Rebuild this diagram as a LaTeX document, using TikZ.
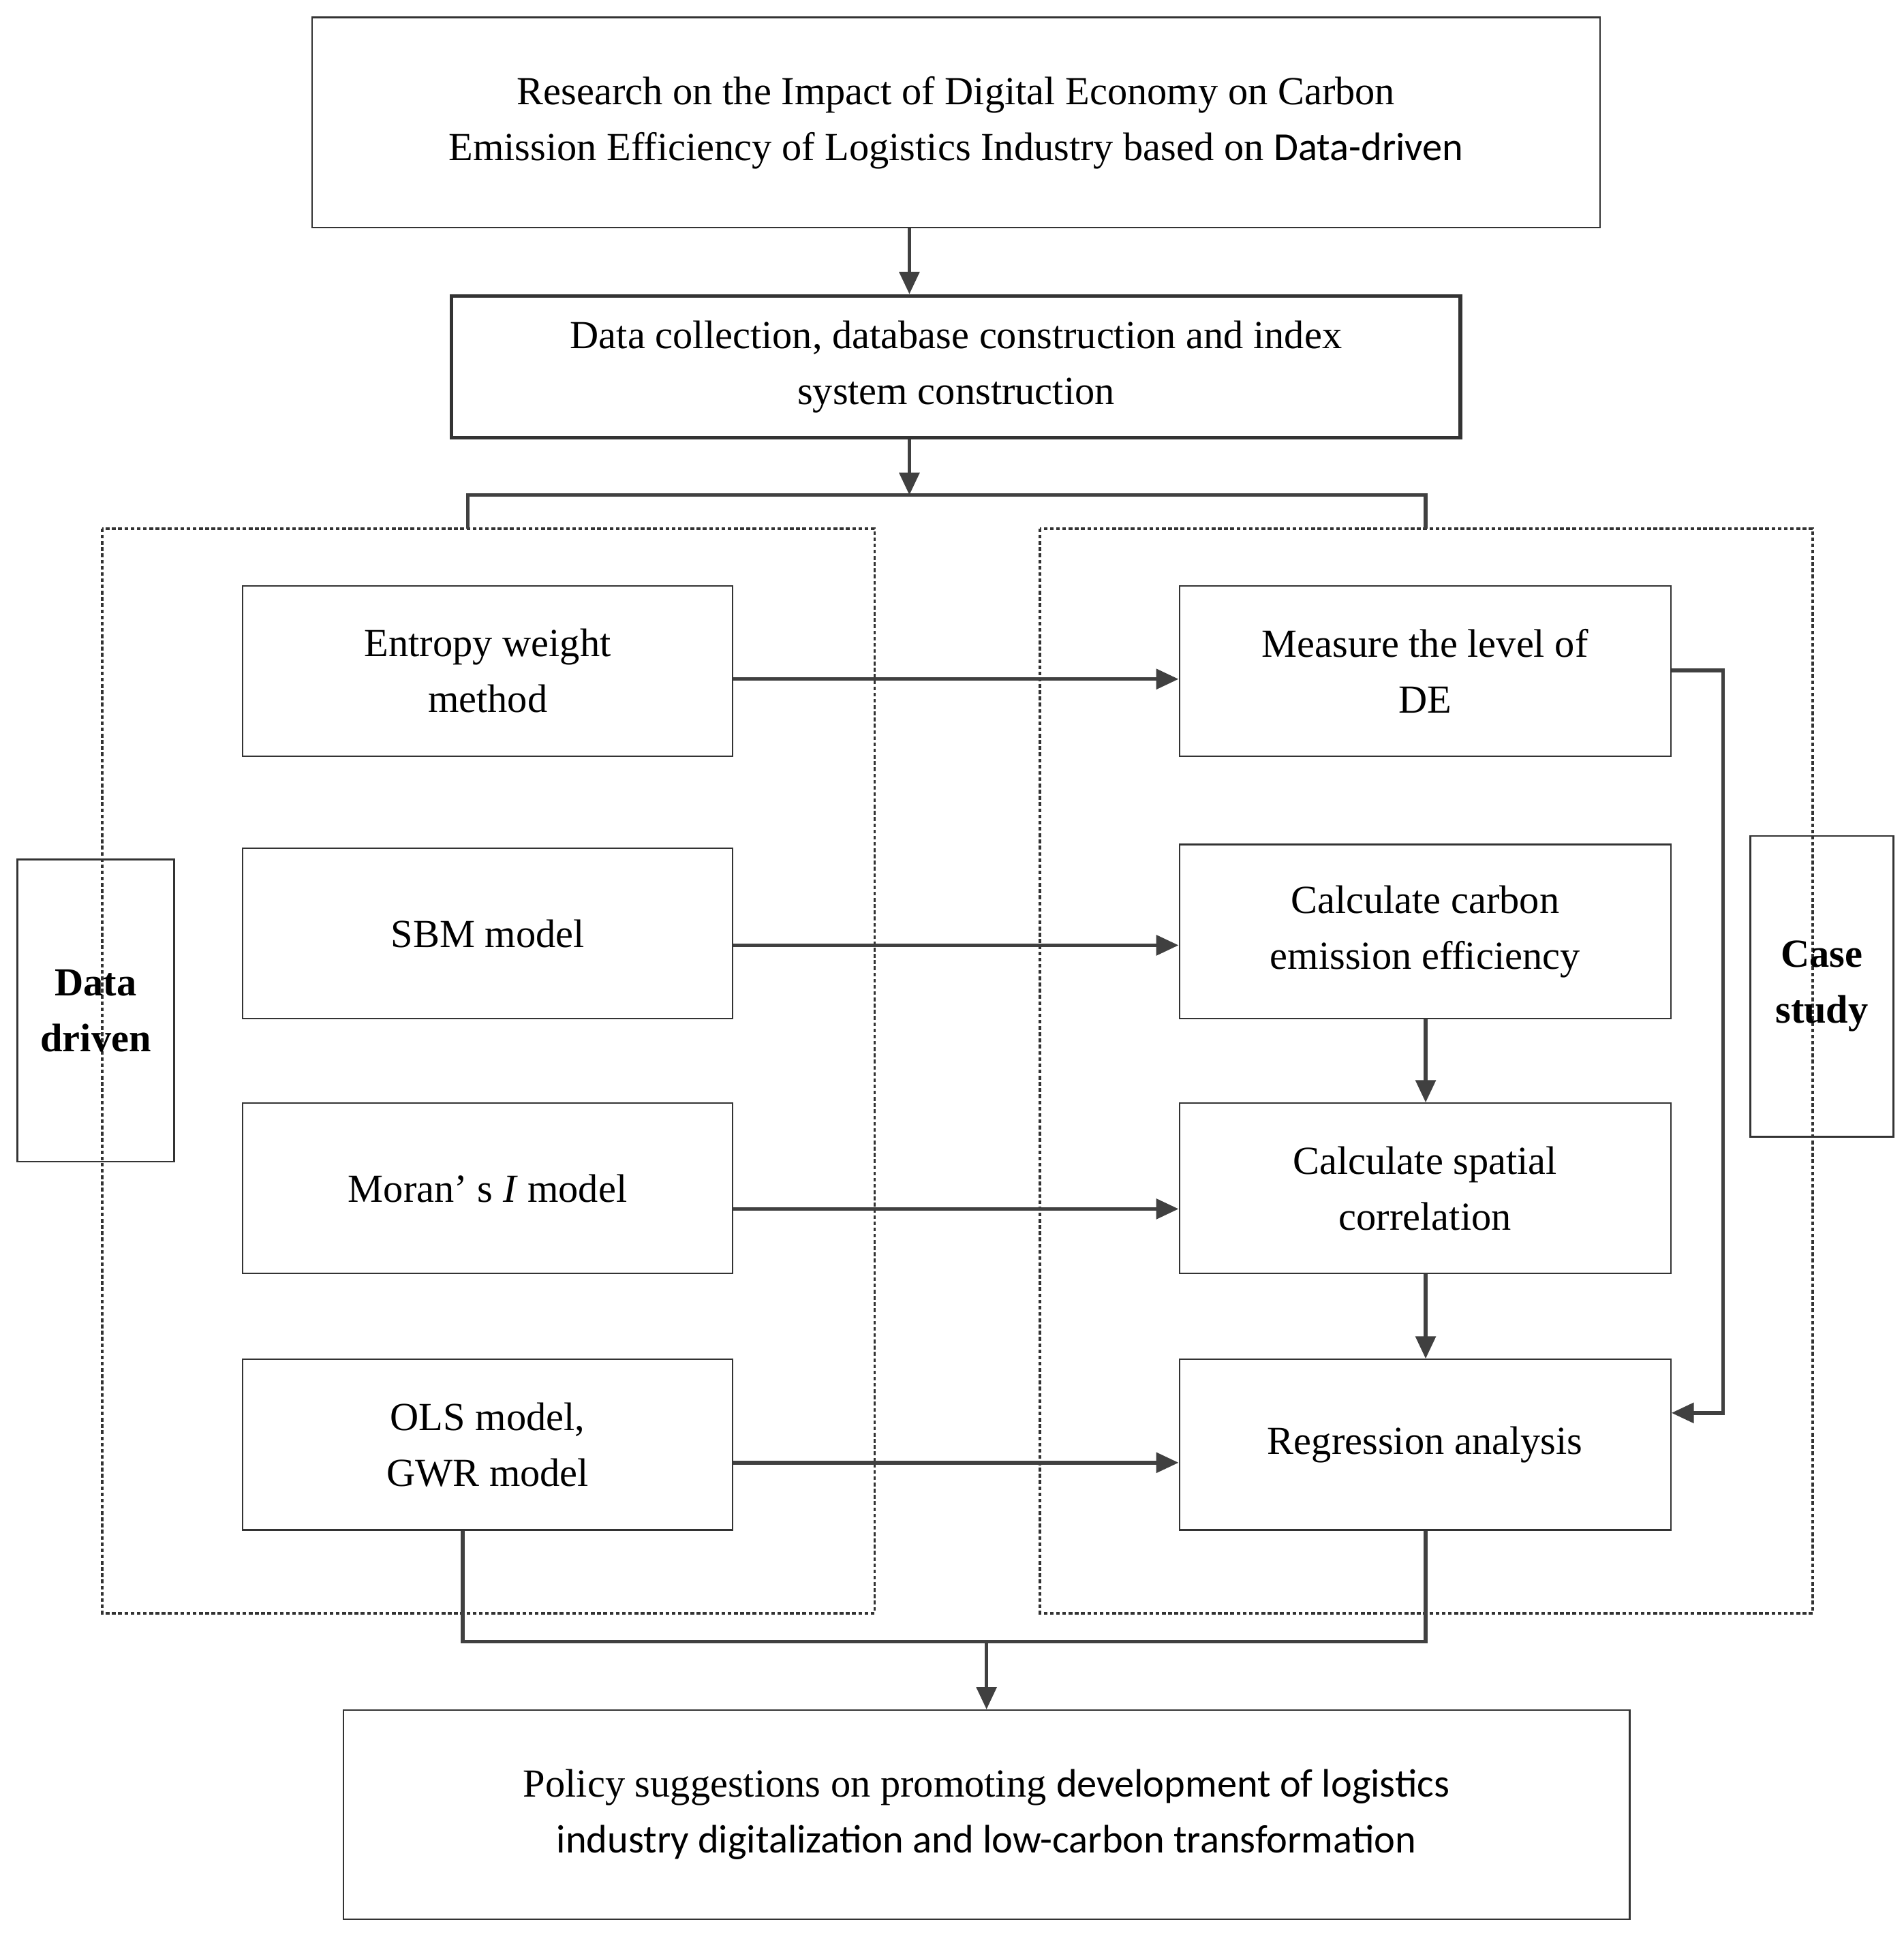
\documentclass[tikz,border=0pt]{standalone}
\usepackage{fontspec}
\setmainfont{Liberation Serif}
\newfontfamily\carl{Carlito}
\usetikzlibrary{arrows.meta}
\begin{document}
\begin{tikzpicture}[x=1pt,y=-1pt,
 box/.style={draw=black!80,line width=1.2pt,rectangle,align=center,font=\fontsize{32}{45}\selectfont,inner sep=0pt},
 arr/.style={draw=black!75,line width=3pt,-{Triangle[length=18pt,width=16pt]}},
 ln/.style={draw=black!75,line width=3pt},
 dashbox/.style={draw=black!80,line width=2pt,dash pattern=on 3pt off 2pt}]
\useasboundingbox (0,0) rectangle (1530,1559);
\newcommand\bx[6]{\node[box,#6,minimum width=#3-#1,minimum height=#4-#2] (#5) at ({(#1+#3)/2},{(#2+#4)/2})}
\bx{251}{14}{1286}{183}{t}{}{Research on the Impact of  Digital Economy on Carbon\\Emission Efficiency of Logistics Industry based on {\carl Data-driven}};
\bx{363}{238}{1174}{352}{d}{line width=3pt}{Data collection, database construction and index\\system construction};
\draw[dashbox] (82,425) rectangle (703,1297);
\draw[dashbox] (836,425) rectangle (1457,1297);
\bx{195}{471}{589}{608}{l1}{}{Entropy weight\\method};
\bx{195}{682}{589}{819}{l2}{}{SBM model};
\bx{195}{887}{589}{1024}{l3}{}{Moran’ s \textit{I}  model};
\bx{195}{1093}{589}{1230}{l4}{}{OLS model,\\GWR model};
\bx{948}{471}{1343}{608}{r1}{}{Measure the  level of\\DE};
\bx{948}{679}{1343}{819}{r2}{}{Calculate carbon\\emission efficiency};
\bx{948}{887}{1343}{1024}{r3}{}{Calculate spatial\\correlation};
\bx{948}{1093}{1343}{1230}{r4}{}{Regression analysis};
\bx{14}{691}{140}{934}{dd}{font=\fontsize{32}{45}\selectfont\bfseries}{Data\\driven};
\bx{1407}{672}{1522}{914}{cs}{font=\fontsize{32}{45}\selectfont\bfseries}{Case\\study};
\bx{276}{1375}{1310}{1543}{p}{}{Policy suggestions on promoting {\carl development of logistics}\\{\carl industry digitalization and low-carbon transformation}};
\coordinate (c1) at (731,398);
\coordinate (c2) at (793,1320);
\coordinate (k1) at (1385,539);
\coordinate (k2) at (1385,1136);
\draw[arr] (t.south -| c1) -- (d.north -| c1);
\draw[arr] (d.south -| c1) -- (c1);
\draw[ln] (376,425) -- (376,398) -- (1146,398) -- (1146,425);
\draw[arr] (l1.east |- 0,546) -- (r1.west |- 0,546);
\draw[arr] (l2.east |- 0,760) -- (r2.west |- 0,760);
\draw[arr] (l3.east |- 0,972) -- (r3.west |- 0,972);
\draw[arr] (l4.east |- 0,1176) -- (r4.west |- 0,1176);
\draw[arr] (r2.south -| 1146,0) -- (r3.north -| 1146,0);
\draw[arr] (r3.south -| 1146,0) -- (r4.north -| 1146,0);
\draw[arr] (r1.east |- k1) -- (k1) -- (k2) -- (r4.east |- k2);
\draw[ln] (l4.south -| 372,0) -- (372,1320) -- (1146,1320) -- (r4.south -| 1146,0);
\draw[arr] (c2) -- (p.north -| c2);
\end{tikzpicture}
\end{document}
